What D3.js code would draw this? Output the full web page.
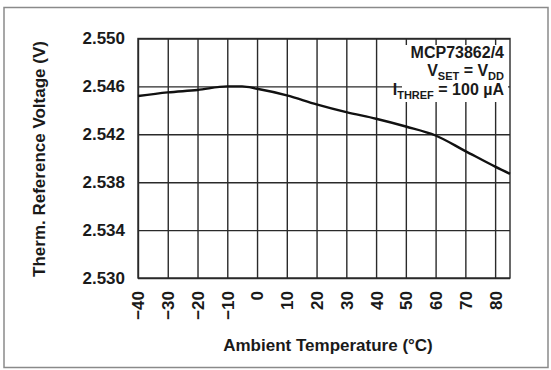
<!DOCTYPE html>
<html>
<head>
<meta charset="utf-8">
<script src="https://cdn.jsdelivr.net/npm/d3@7"></script>
<style>
    body { margin: 0; background: #fff; }
    svg { display: block; font-family: "Liberation Sans", Arial, sans-serif; font-weight: bold; }
</style>
</head>
<body>
<svg id="thermref-chart"></svg>
<script>
// Chart data
const temperatures = [-40, -30, -20, -10, -5, 0, 10, 20, 30, 40, 50, 60, 70, 80, 85];
const ref_voltages = [2.5452, 2.5455, 2.5457, 2.5460, 2.5460, 2.5458, 2.54525, 2.5445, 2.54385, 2.5433, 2.54265, 2.5419, 2.5406, 2.5393, 2.5387];
const x_ticks = [-40, -30, -20, -10, 0, 10, 20, 30, 40, 50, 60, 70, 80];
const y_ticks = [2.530, 2.534, 2.538, 2.542, 2.546, 2.550];
const note_lines = ["MCP73862/4", "VSET = VDD", "ITHREF = 100 µA"];

// Dimensions
const width = 551, height = 370;
const margins = { top: 38.5, right: 41, bottom: 92, left: 138 };
const chart_width = width - margins.left - margins.right;
const chart_height = height - margins.top - margins.bottom;

// Scales
const x_scale = d3.scaleLinear().domain([-40, 85]).range([0, chart_width]);
const y_scale = d3.scaleLinear().domain([2.530, 2.550]).range([chart_height, 0]);

const svg = d3.select("#thermref-chart")
    .attr("width", width)
    .attr("height", height);

// Outer frame
svg.append("rect")
    .attr("x", 4).attr("y", 7.5)
    .attr("width", 544).attr("height", 360)
    .attr("fill", "none")
    .attr("stroke", "#8a8a8a")
    .attr("stroke-width", 1.5);

const g = svg.append("g")
    .attr("transform", `translate(${margins.left},${margins.top})`);

// Grid lines from the axes
g.append("g")
    .attr("class", "x grid")
    .attr("transform", `translate(0,${chart_height})`)
    .call(d3.axisBottom(x_scale).tickValues(x_ticks).tickSize(-chart_height).tickFormat(""))
    .call(a => a.select(".domain").remove());

g.append("g")
    .attr("class", "y grid")
    .call(d3.axisLeft(y_scale).tickValues(y_ticks).tickSize(-chart_width).tickFormat(""))
    .call(a => a.select(".domain").remove());

g.selectAll(".grid line")
    .attr("stroke", "#2a2a2a")
    .attr("stroke-width", 1.4);

// Plot border
g.append("rect")
    .attr("width", chart_width).attr("height", chart_height)
    .attr("fill", "none")
    .attr("stroke", "#2a2a2a")
    .attr("stroke-width", 1.4);

// Curve
const line = d3.line()
    .x((d, i) => x_scale(temperatures[i]))
    .y(d => y_scale(d))
    .curve(d3.curveMonotoneX);

g.append("path")
    .datum(ref_voltages)
    .attr("d", line)
    .attr("fill", "none")
    .attr("stroke", "#111")
    .attr("stroke-width", 2.4);

// White box behind the annotation
g.append("rect")
    .attr("x", 264).attr("y", 6.5)
    .attr("width", 106).attr("height", 57)
    .attr("fill", "#fff");

// Annotation text with subscripts
const note = g.append("text")
    .attr("text-anchor", "end")
    .attr("font-size", 16)
    .attr("fill", "#1a1a1a");

note.append("tspan").attr("x", 366).attr("y", 19).text(note_lines[0]);

const l2 = note.append("tspan").attr("x", 366).attr("y", 37);
l2.append("tspan").text("V");
l2.append("tspan").attr("font-size", 11).attr("dy", 4).text("SET");
l2.append("tspan").attr("dy", -4).text(" = V");
l2.append("tspan").attr("font-size", 11).attr("dy", 4).text("DD");

const l3 = note.append("tspan").attr("x", 366).attr("y", 56);
l3.append("tspan").text("I");
l3.append("tspan").attr("font-size", 11).attr("dy", 4).text("THREF");
l3.append("tspan").attr("dy", -4).text(" = 100 µA");

// Y tick labels
const y_axis = g.append("g")
    .attr("class", "y axis")
    .call(d3.axisLeft(y_scale).tickValues(y_ticks).tickSize(0).tickPadding(13).tickFormat(d3.format(".3f")));
y_axis.select(".domain").remove();
y_axis.selectAll("text")
    .attr("font-size", 17)
    .attr("font-family", "Liberation Sans, Arial, sans-serif")
    .attr("font-weight", "bold")
    .attr("fill", "#1a1a1a");

// X tick labels (rotated)
const x_axis = g.append("g")
    .attr("class", "x axis")
    .attr("transform", `translate(0,${chart_height})`)
    .call(d3.axisBottom(x_scale).tickValues(x_ticks).tickSize(0).tickFormat(d3.format("d")));
x_axis.select(".domain").remove();
x_axis.selectAll("text")
    .attr("font-size", 17)
    .attr("font-family", "Liberation Sans, Arial, sans-serif")
    .attr("font-weight", "bold")
    .attr("fill", "#1a1a1a")
    .attr("text-anchor", "end")
    .attr("dy", "0.35em")
    .attr("transform", "translate(0,13) rotate(-90)")
    .attr("x", 0).attr("y", 0);

// Axis titles
svg.append("text")
    .attr("x", 328).attr("y", 351)
    .attr("text-anchor", "middle")
    .attr("font-size", 17)
    .attr("fill", "#1a1a1a")
    .text("Ambient Temperature (°C)");

svg.append("text")
    .attr("transform", "translate(45,159) rotate(-90)")
    .attr("text-anchor", "middle")
    .attr("font-size", 17)
    .attr("fill", "#1a1a1a")
    .text("Therm. Reference Voltage (V)");
</script>
</body>
</html>
